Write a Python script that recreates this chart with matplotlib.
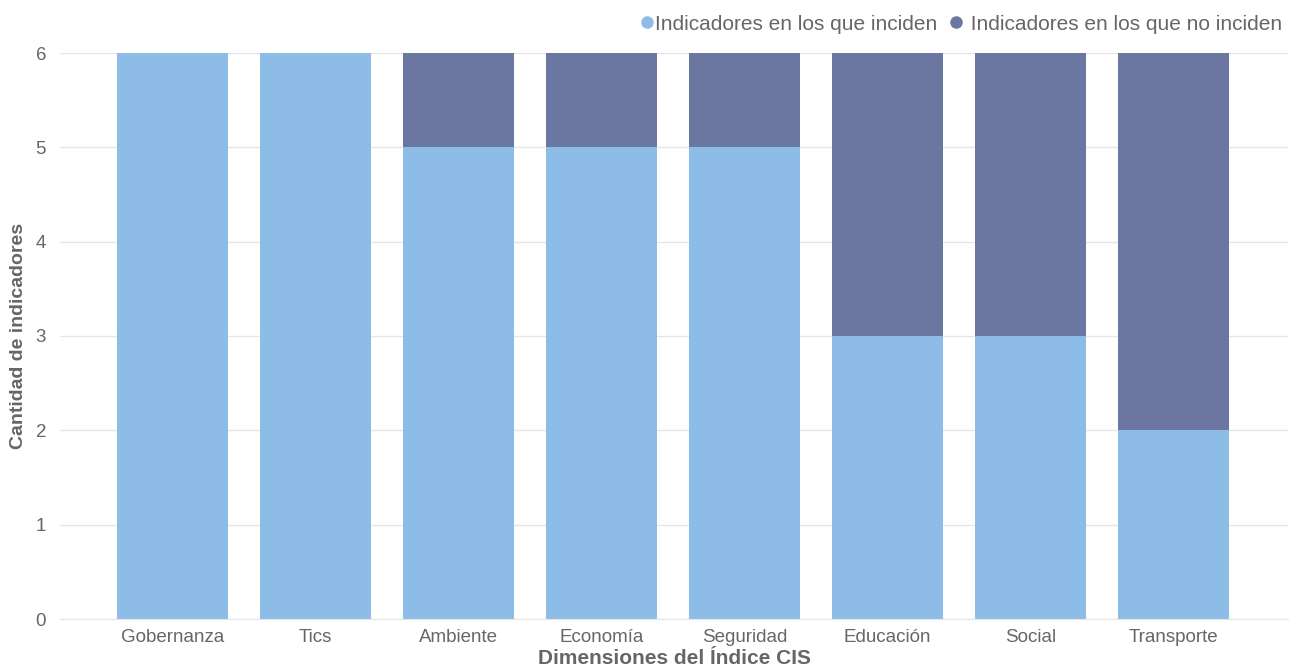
import matplotlib.pyplot as plt
import numpy as np

plt.rcParams["font.family"] = ["Liberation Sans", "DejaVu Sans"]

categorias = ["Gobernanza", "Tics", "Ambiente", "Economía", "Seguridad",
              "Educación", "Social", "Transporte"]
inciden = [6, 6, 5, 5, 5, 3, 3, 2]
no_inciden = [0, 0, 1, 1, 1, 3, 3, 4]

col_in = "#8dbde6"
col_no = "#6b77a0"
gris = "#666666"

fig = plt.figure(figsize=(12.89, 6.67), dpi=100)
ax = fig.add_axes([60 / 1289, 1 - 619 / 667, 1228 / 1289, 566 / 667])

x = np.arange(len(categorias))
ax.bar(x, inciden, width=0.78, color=col_in, zorder=2)
ax.bar(x, no_inciden, width=0.78, bottom=inciden, color=col_no, zorder=2)

ax.set_xlim(-0.785, 7.8)
ax.set_ylim(0, 6)
ax.set_yticks(range(7))
ax.set_xticks(x)
ax.set_xticklabels(categorias)
ax.tick_params(length=0, labelsize=13.5, colors=gris, pad=7)
ax.tick_params(axis="y", pad=10)
ax.grid(axis="y", color="#e6e6e6", linewidth=1, zorder=0)
for s in ["top", "right", "left"]:
    ax.spines[s].set_visible(False)
ax.spines["bottom"].set_color("#e6e6e6")

ax.set_xlabel("Dimensiones del Índice CIS", fontsize=15, fontweight="bold",
              color=gris, labelpad=2)
ax.set_ylabel("Cantidad de indicadores", fontsize=14, fontweight="bold",
              color=gris, va="center")
ax.yaxis.set_label_coords(-0.034, 0.5)

h1 = plt.Line2D([], [], marker="o", linestyle="", color=col_in, markersize=8)
h2 = plt.Line2D([], [], marker="o", linestyle="", color=col_no, markersize=8)
leg = fig.legend([h1, h2], ["Indicadores en los que inciden", " Indicadores en los que no inciden"],
                 loc="upper right", bbox_to_anchor=(1.009, 1.006), ncol=2, frameon=False,
                 fontsize=15, handletextpad=0.0, columnspacing=0.5, handlelength=0.8)
for t in leg.get_texts():
    t.set_color(gris)

fig.savefig("out.png", dpi=100)
